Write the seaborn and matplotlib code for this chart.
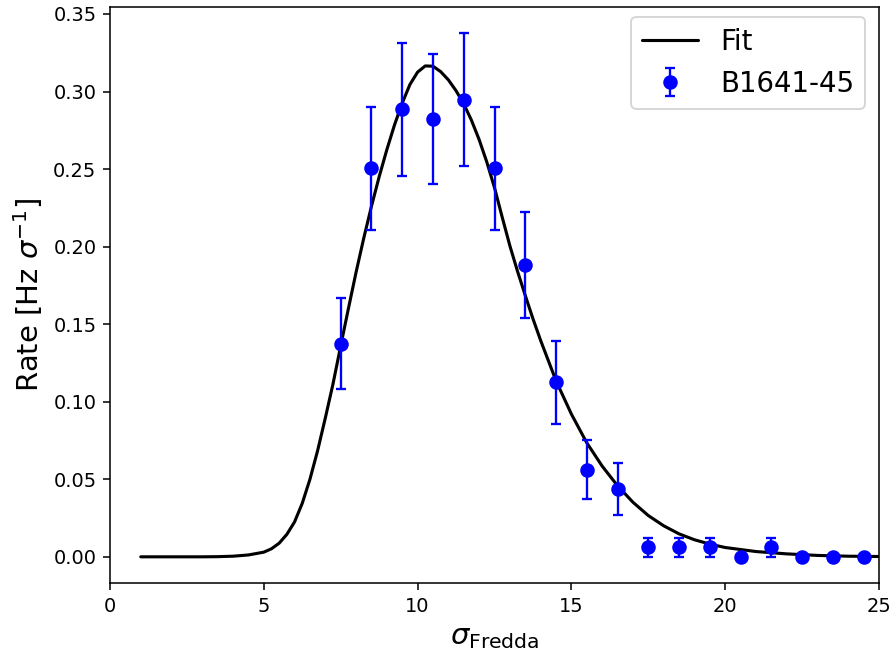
import matplotlib
matplotlib.use("Agg")
import matplotlib.pyplot as plt
import seaborn as sns
import pandas as pd

# Observed rate per sigma bin (B1641-45)
bin_centres = [7.5, 8.5, 9.5, 10.5, 11.5, 12.5, 13.5, 14.5, 15.5, 16.5,
               17.5, 18.5, 19.5, 20.5, 21.5, 22.5, 23.5, 24.5]
rates = [0.1375, 0.2505, 0.2885, 0.2822, 0.2947, 0.2505, 0.1880, 0.1126, 0.0562, 0.0437,
         0.0062, 0.0062, 0.0062, 0.0, 0.0062, 0.0, 0.0, 0.0]
rate_errors = [0.0292, 0.0398, 0.0428, 0.0421, 0.0429, 0.0398, 0.0343, 0.0267, 0.0188, 0.0168,
               0.0062, 0.0062, 0.0062, 0.0, 0.0062, 0.0, 0.0, 0.0]

# Fit curve
fit_x = [1.0, 2.0, 3.0, 3.5, 4.0, 4.5, 5.0, 5.25, 5.5, 5.75, 6.0, 6.25, 6.5, 6.75,
         7.0, 7.25, 7.5, 7.75, 8.0, 8.25, 8.5, 8.75, 9.0, 9.25, 9.5, 9.75, 10.0,
         10.25, 10.5, 10.75, 11.0, 11.25, 11.5, 11.75, 12.0, 12.25, 12.5, 12.75,
         13.0, 13.25, 13.5, 13.75, 14.0, 14.5, 15.0, 15.5, 16.0, 16.5, 17.0, 17.5,
         18.0, 18.5, 19.0, 19.5, 20.0, 21.0, 22.0, 23.0, 24.0, 25.0]
fit_y = [0.0, 0.0, 0.0, 0.0001, 0.0004, 0.0012, 0.003, 0.0052, 0.0088, 0.0145, 0.0225,
         0.0345, 0.050, 0.0685, 0.0895, 0.1115, 0.136, 0.160, 0.1835, 0.2055, 0.226, 0.245,
         0.2625, 0.2785, 0.2925, 0.3045, 0.3125, 0.3165, 0.3163, 0.3128, 0.3075, 0.3005,
         0.2920, 0.2815, 0.2690, 0.2545, 0.2380, 0.2190, 0.2005, 0.1840, 0.1685, 0.1535,
         0.1395, 0.1135, 0.0920, 0.0735, 0.0585, 0.0458, 0.0352, 0.0266, 0.0200, 0.0148,
         0.0110, 0.0082, 0.0060, 0.0034, 0.0019, 0.0009, 0.0004, 0.0002]

sns.set_style("ticks")
plt.rcParams['font.family'] = ['DejaVu Sans']
plt.rcParams.update({"text.color": "black", "axes.labelcolor": "black",
                     "xtick.color": "black", "ytick.color": "black",
                     "axes.edgecolor": "black"})

fig = plt.figure(figsize=(892 / 139.4, 658 / 139.4), dpi=139.4)
ax = fig.add_axes([110 / 892, 1 - 583 / 658, (879 - 110) / 892, (583 - 7) / 658])

fit_df = pd.DataFrame({"x": fit_x, "y": fit_y})
sns.lineplot(data=fit_df, x="x", y="y", color="black", linewidth=1.6, ax=ax, label="Fit")
ax.errorbar(bin_centres, rates, yerr=rate_errors, fmt="o", color="blue",
            markersize=6.5, capsize=2.8, elinewidth=1.2, capthick=1.2, label="B1641-45")

ax.set_xlim(0, 25)
ax.set_xticks([0, 5, 10, 15, 20, 25])
ax.set_yticks([0.0, 0.05, 0.10, 0.15, 0.20, 0.25, 0.30, 0.35])
ax.set_yticklabels(["0.00", "0.05", "0.10", "0.15", "0.20", "0.25", "0.30", "0.35"])
ax.tick_params(labelsize=10, direction="out", length=3.5, width=0.8, colors="black")
for s in ax.spines.values():
    s.set_linewidth(0.8)
    s.set_color("black")

ax.set_xlabel(r"$\sigma_{\rm Fredda}$", fontsize=15)
ax.set_ylabel(r"Rate [Hz $\sigma^{-1}$]", fontsize=15)
ax.legend(loc="upper right", bbox_to_anchor=(0.982, 0.983), borderaxespad=0.0,
          fontsize=14.3, frameon=True)

fig.savefig("out.png", dpi=139.4)
